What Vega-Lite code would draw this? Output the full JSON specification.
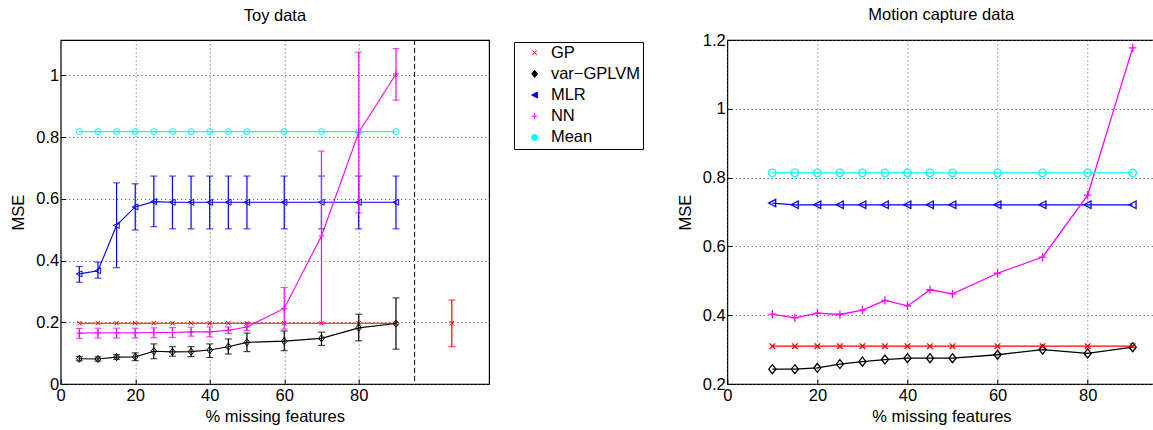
{
  "$schema": "https://vega.github.io/schema/vega-lite/v6.json",
  "autosize": {"type": "none"},
  "padding": {"left": 60.7, "top": 40, "right": 1092.3, "bottom": 390},
  "background": "white",
  "datasets": {
    "toy": [
      {"s": "GP", "x": 5, "y": 0.197}, {"s": "GP", "x": 10, "y": 0.197}, {"s": "GP", "x": 15, "y": 0.197}, {"s": "GP", "x": 20, "y": 0.197}, {"s": "GP", "x": 25, "y": 0.197}, {"s": "GP", "x": 30, "y": 0.197}, {"s": "GP", "x": 35, "y": 0.197}, {"s": "GP", "x": 40, "y": 0.197}, {"s": "GP", "x": 45, "y": 0.197}, {"s": "GP", "x": 50, "y": 0.197}, {"s": "GP", "x": 60, "y": 0.197}, {"s": "GP", "x": 70, "y": 0.197}, {"s": "GP", "x": 80, "y": 0.197}, {"s": "GP", "x": 90, "y": 0.197},
      {"s": "GP", "x": 105, "y": 0.197, "lo": 0.121, "hi": 0.272, "extra": true},
      {"s": "var−GPLVM", "x": 5, "y": 0.082, "lo": 0.075, "hi": 0.089},
      {"s": "var−GPLVM", "x": 10, "y": 0.081, "lo": 0.074, "hi": 0.088},
      {"s": "var−GPLVM", "x": 15, "y": 0.087, "lo": 0.080, "hi": 0.095},
      {"s": "var−GPLVM", "x": 20, "y": 0.088, "lo": 0.076, "hi": 0.101},
      {"s": "var−GPLVM", "x": 25, "y": 0.106, "lo": 0.082, "hi": 0.130},
      {"s": "var−GPLVM", "x": 30, "y": 0.104, "lo": 0.090, "hi": 0.121},
      {"s": "var−GPLVM", "x": 35, "y": 0.105, "lo": 0.089, "hi": 0.121},
      {"s": "var−GPLVM", "x": 40, "y": 0.110, "lo": 0.086, "hi": 0.130},
      {"s": "var−GPLVM", "x": 45, "y": 0.121, "lo": 0.097, "hi": 0.146},
      {"s": "var−GPLVM", "x": 50, "y": 0.135, "lo": 0.105, "hi": 0.165},
      {"s": "var−GPLVM", "x": 60, "y": 0.139, "lo": 0.108, "hi": 0.172},
      {"s": "var−GPLVM", "x": 70, "y": 0.148, "lo": 0.125, "hi": 0.168},
      {"s": "var−GPLVM", "x": 80, "y": 0.182, "lo": 0.140, "hi": 0.226},
      {"s": "var−GPLVM", "x": 90, "y": 0.196, "lo": 0.113, "hi": 0.279},
      {"s": "MLR", "x": 5, "y": 0.357, "lo": 0.330, "hi": 0.381},
      {"s": "MLR", "x": 10, "y": 0.367, "lo": 0.343, "hi": 0.395},
      {"s": "MLR", "x": 15, "y": 0.514, "lo": 0.377, "hi": 0.652},
      {"s": "MLR", "x": 20, "y": 0.574, "lo": 0.499, "hi": 0.649},
      {"s": "MLR", "x": 25, "y": 0.591, "lo": 0.510, "hi": 0.674},
      {"s": "MLR", "x": 30, "y": 0.589, "lo": 0.503, "hi": 0.674},
      {"s": "MLR", "x": 35, "y": 0.589, "lo": 0.503, "hi": 0.674},
      {"s": "MLR", "x": 40, "y": 0.589, "lo": 0.503, "hi": 0.674},
      {"s": "MLR", "x": 45, "y": 0.589, "lo": 0.503, "hi": 0.674},
      {"s": "MLR", "x": 50, "y": 0.589, "lo": 0.503, "hi": 0.674},
      {"s": "MLR", "x": 60, "y": 0.589, "lo": 0.503, "hi": 0.674},
      {"s": "MLR", "x": 70, "y": 0.589, "lo": 0.503, "hi": 0.674},
      {"s": "MLR", "x": 80, "y": 0.589, "lo": 0.503, "hi": 0.674},
      {"s": "MLR", "x": 90, "y": 0.589, "lo": 0.503, "hi": 0.674},
      {"s": "NN", "x": 5, "y": 0.165, "lo": 0.148, "hi": 0.180},
      {"s": "NN", "x": 10, "y": 0.166, "lo": 0.149, "hi": 0.181},
      {"s": "NN", "x": 15, "y": 0.166, "lo": 0.149, "hi": 0.181},
      {"s": "NN", "x": 20, "y": 0.166, "lo": 0.149, "hi": 0.181},
      {"s": "NN", "x": 25, "y": 0.167, "lo": 0.150, "hi": 0.182},
      {"s": "NN", "x": 30, "y": 0.167, "lo": 0.151, "hi": 0.183},
      {"s": "NN", "x": 35, "y": 0.169, "lo": 0.155, "hi": 0.184},
      {"s": "NN", "x": 40, "y": 0.169, "lo": 0.153, "hi": 0.185},
      {"s": "NN", "x": 45, "y": 0.174, "lo": 0.164, "hi": 0.185},
      {"s": "NN", "x": 50, "y": 0.185, "lo": 0.173, "hi": 0.197},
      {"s": "NN", "x": 60, "y": 0.245, "lo": 0.178, "hi": 0.313},
      {"s": "NN", "x": 70, "y": 0.480, "lo": 0.197, "hi": 0.755},
      {"s": "NN", "x": 80, "y": 0.815, "lo": 0.555, "hi": 1.075},
      {"s": "NN", "x": 90, "y": 1.005, "lo": 0.920, "hi": 1.087},
      {"s": "Mean", "x": 5, "y": 0.818}, {"s": "Mean", "x": 10, "y": 0.818}, {"s": "Mean", "x": 15, "y": 0.818}, {"s": "Mean", "x": 20, "y": 0.818}, {"s": "Mean", "x": 25, "y": 0.818}, {"s": "Mean", "x": 30, "y": 0.818}, {"s": "Mean", "x": 35, "y": 0.818}, {"s": "Mean", "x": 40, "y": 0.818}, {"s": "Mean", "x": 45, "y": 0.818}, {"s": "Mean", "x": 50, "y": 0.818}, {"s": "Mean", "x": 60, "y": 0.818}, {"s": "Mean", "x": 70, "y": 0.818}, {"s": "Mean", "x": 80, "y": 0.818}, {"s": "Mean", "x": 90, "y": 0.818}
    ],
    "mocap": [
      {"s": "GP", "x": 10, "y": 0.31}, {"s": "GP", "x": 15, "y": 0.31}, {"s": "GP", "x": 20, "y": 0.31}, {"s": "GP", "x": 25, "y": 0.31}, {"s": "GP", "x": 30, "y": 0.31}, {"s": "GP", "x": 35, "y": 0.31}, {"s": "GP", "x": 40, "y": 0.31}, {"s": "GP", "x": 45, "y": 0.31}, {"s": "GP", "x": 50, "y": 0.31}, {"s": "GP", "x": 60, "y": 0.31}, {"s": "GP", "x": 70, "y": 0.31}, {"s": "GP", "x": 80, "y": 0.31}, {"s": "GP", "x": 90, "y": 0.31},
      {"s": "var−GPLVM", "x": 10, "y": 0.243}, {"s": "var−GPLVM", "x": 15, "y": 0.243}, {"s": "var−GPLVM", "x": 20, "y": 0.247}, {"s": "var−GPLVM", "x": 25, "y": 0.258}, {"s": "var−GPLVM", "x": 30, "y": 0.265}, {"s": "var−GPLVM", "x": 35, "y": 0.271}, {"s": "var−GPLVM", "x": 40, "y": 0.275}, {"s": "var−GPLVM", "x": 45, "y": 0.275}, {"s": "var−GPLVM", "x": 50, "y": 0.275}, {"s": "var−GPLVM", "x": 60, "y": 0.285}, {"s": "var−GPLVM", "x": 70, "y": 0.300}, {"s": "var−GPLVM", "x": 80, "y": 0.289}, {"s": "var−GPLVM", "x": 90, "y": 0.307},
      {"s": "MLR", "x": 10, "y": 0.726}, {"s": "MLR", "x": 15, "y": 0.721}, {"s": "MLR", "x": 20, "y": 0.721}, {"s": "MLR", "x": 25, "y": 0.721}, {"s": "MLR", "x": 30, "y": 0.721}, {"s": "MLR", "x": 35, "y": 0.721}, {"s": "MLR", "x": 40, "y": 0.721}, {"s": "MLR", "x": 45, "y": 0.721}, {"s": "MLR", "x": 50, "y": 0.721}, {"s": "MLR", "x": 60, "y": 0.721}, {"s": "MLR", "x": 70, "y": 0.721}, {"s": "MLR", "x": 80, "y": 0.721}, {"s": "MLR", "x": 90, "y": 0.721},
      {"s": "NN", "x": 10, "y": 0.403}, {"s": "NN", "x": 15, "y": 0.392}, {"s": "NN", "x": 20, "y": 0.406}, {"s": "NN", "x": 25, "y": 0.402}, {"s": "NN", "x": 30, "y": 0.415}, {"s": "NN", "x": 35, "y": 0.443}, {"s": "NN", "x": 40, "y": 0.427}, {"s": "NN", "x": 45, "y": 0.474}, {"s": "NN", "x": 50, "y": 0.462}, {"s": "NN", "x": 60, "y": 0.522}, {"s": "NN", "x": 70, "y": 0.569}, {"s": "NN", "x": 80, "y": 0.749}, {"s": "NN", "x": 90, "y": 1.177},
      {"s": "Mean", "x": 10, "y": 0.814}, {"s": "Mean", "x": 15, "y": 0.814}, {"s": "Mean", "x": 20, "y": 0.814}, {"s": "Mean", "x": 25, "y": 0.814}, {"s": "Mean", "x": 30, "y": 0.814}, {"s": "Mean", "x": 35, "y": 0.814}, {"s": "Mean", "x": 40, "y": 0.814}, {"s": "Mean", "x": 45, "y": 0.814}, {"s": "Mean", "x": 50, "y": 0.814}, {"s": "Mean", "x": 60, "y": 0.814}, {"s": "Mean", "x": 70, "y": 0.814}, {"s": "Mean", "x": 80, "y": 0.814}, {"s": "Mean", "x": 90, "y": 0.814}
    ]
  },
  "bounds": "flush",
  "spacing": 237.6,
  "resolve": {"scale": {"color": "shared", "shape": "shared"}, "legend": {"color": "shared"}},
  "hconcat": [
    {
      "width": 428.4,
      "height": 344,
      "title": {"text": "Toy data", "offset": 15},
      "data": {"name": "toy"},
      "layer": [
        {
          "data": {"values": [{"x": 95}]},
          "mark": {"type": "rule", "color": "black", "strokeDash": [5, 3], "strokeWidth": 1},
          "encoding": {
            "x": {"field": "x", "type": "quantitative", "scale": {"domain": [0, 115], "nice": false, "zero": false}, "axis": {"values": [0, 20, 40, 60, 80]}, "title": "% missing features"}
          }
        },
        {
          "mark": {"type": "point", "filled": false, "size": 36, "strokeWidth": 1, "opacity": 1},
          "encoding": {
            "x": {"field": "x", "type": "quantitative", "scale": {"domain": [0, 115], "nice": false, "zero": false}, "title": "% missing features"},
            "y": {"field": "y", "type": "quantitative", "scale": {"domain": [0, 1.115], "nice": false, "zero": false}, "axis": {"values": [0, 0.2, 0.4, 0.6, 0.8, 1], "format": "~g"}, "title": "MSE"},
            "color": {"field": "s", "type": "nominal", "scale": {"domain": ["GP", "var−GPLVM", "MLR", "NN", "Mean"], "range": ["#ff0000", "#000000", "#0000ff", "#ff00ff", "#00ffff"]},
              "legend": {"orient": "none", "legendX": 453.3, "legendY": 2, "title": null}},
            "shape": {"field": "s", "type": "nominal", "legend": null, "scale": {"domain": ["GP", "var−GPLVM", "MLR", "NN", "Mean"], "range": ["M-0.75,-0.75L0.75,0.75M-0.75,0.75L0.75,-0.75", "M0,-1.2L0.95,0L0,1.2L-0.95,0Z", "M-1,0L0.9,-1L0.9,1Z", "M-1,0H1M0,-1.1V1.1", "circle"]}}
          }
        },
        {
          "transform": [{"filter": "!datum.extra"}],
          "mark": {"type": "line", "strokeWidth": 1.1},
          "encoding": {
            "x": {"field": "x", "type": "quantitative", "scale": {"domain": [0, 115], "nice": false, "zero": false}, "title": "% missing features"},
            "y": {"field": "y", "type": "quantitative", "scale": {"domain": [0, 1.115], "nice": false, "zero": false}, "title": "MSE"},
            "color": {"field": "s", "type": "nominal", "scale": {"domain": ["GP", "var−GPLVM", "MLR", "NN", "Mean"], "range": ["#ff0000", "#000000", "#0000ff", "#ff00ff", "#00ffff"]},
              "legend": {"orient": "none", "legendX": 453.3, "legendY": 2, "title": null}},
            "detail": {"field": "s"}
          }
        },
        {
          "transform": [{"filter": "isValid(datum.lo)"}],
          "mark": {"type": "errorbar", "ticks": {"size": 7}, "thickness": 1.2},
          "encoding": {
            "x": {"field": "x", "type": "quantitative", "scale": {"domain": [0, 115], "nice": false, "zero": false}, "title": "% missing features"},
            "y": {"field": "lo", "type": "quantitative", "scale": {"domain": [0, 1.115], "nice": false, "zero": false}, "title": "MSE"},
            "y2": {"field": "hi"},
            "color": {"field": "s", "type": "nominal", "scale": {"domain": ["GP", "var−GPLVM", "MLR", "NN", "Mean"], "range": ["#ff0000", "#000000", "#0000ff", "#ff00ff", "#00ffff"]},
              "legend": {"orient": "none", "legendX": 453.3, "legendY": 2, "title": null}}
          }
        }
      ]
    },
    {
      "width": 427.9,
      "height": 344,
      "title": {"text": "Motion capture data", "offset": 8.5},
      "data": {"name": "mocap"},
      "layer": [
        {
          "mark": {"type": "point", "filled": false, "size": 56, "strokeWidth": 1.3, "opacity": 1},
          "encoding": {
            "x": {"field": "x", "type": "quantitative", "scale": {"domain": [0, 95], "nice": false, "zero": false}, "axis": {"values": [0, 20, 40, 60, 80]}, "title": "% missing features"},
            "y": {"field": "y", "type": "quantitative", "scale": {"domain": [0.2, 1.2], "nice": false, "zero": false}, "axis": {"values": [0.2, 0.4, 0.6, 0.8, 1, 1.2], "format": "~g"}, "title": "MSE"},
            "color": {"field": "s", "type": "nominal", "scale": {"domain": ["GP", "var−GPLVM", "MLR", "NN", "Mean"], "range": ["#ff0000", "#000000", "#0000ff", "#ff00ff", "#00ffff"]},
              "legend": {"orient": "none", "legendX": 453.3, "legendY": 2, "title": null}},
            "shape": {"field": "s", "type": "nominal", "legend": null, "scale": {"domain": ["GP", "var−GPLVM", "MLR", "NN", "Mean"], "range": ["M-0.75,-0.75L0.75,0.75M-0.75,0.75L0.75,-0.75", "M0,-1.2L0.95,0L0,1.2L-0.95,0Z", "M-1,0L0.9,-1L0.9,1Z", "M-1,0H1M0,-1.1V1.1", "circle"]}}
          }
        },
        {
          "mark": {"type": "line", "strokeWidth": 1.3},
          "encoding": {
            "x": {"field": "x", "type": "quantitative", "scale": {"domain": [0, 95], "nice": false, "zero": false}, "title": "% missing features"},
            "y": {"field": "y", "type": "quantitative", "scale": {"domain": [0.2, 1.2], "nice": false, "zero": false}, "title": "MSE"},
            "color": {"field": "s", "type": "nominal", "scale": {"domain": ["GP", "var−GPLVM", "MLR", "NN", "Mean"], "range": ["#ff0000", "#000000", "#0000ff", "#ff00ff", "#00ffff"]},
              "legend": {"orient": "none", "legendX": 453.3, "legendY": 2, "title": null}}
          }
        }
      ]
    }
  ],
  "config": {
    "font": "Liberation Sans",
    "view": {"stroke": "black", "strokeWidth": 1.2},
    "axis": {
      "domain": false,
      "ticks": true,
      "tickSize": -5,
      "tickColor": "black",
      "tickWidth": 1,
      "grid": true,
      "gridColor": "#555555",
      "gridDash": [1, 3],
      "gridWidth": 1,
      "gridOpacity": 1,
      "labelFont": "Liberation Sans",
      "labelFontSize": 16.5,
      "labelColor": "black",
      "labelFlush": false,
      "labelOverlap": false,
      "titleFont": "Liberation Sans",
      "titleFontSize": 16.5,
      "titleFontWeight": "normal",
      "titleColor": "black"
    },
    "axisX": {"labelPadding": 8, "titleBaseline": "alphabetic", "titleX": 214.1, "titleY": 37},
    "axisY": {"labelPadding": 7, "titleBaseline": "alphabetic", "titleX": -37, "titleY": 172, "titleAngle": -90},
    "title": {"font": "Liberation Sans", "fontSize": 16.5, "fontWeight": "normal", "color": "black", "baseline": "alphabetic"},
    "legend": {
      "strokeColor": "black",
      "fillColor": "white",
      "padding": 2.4,
      "labelFont": "Liberation Sans",
      "labelFontSize": 16.5,
      "labelColor": "black",
      "symbolSize": 36,
      "symbolStrokeWidth": 1,
      "symbolOffset": 10,
      "labelOffset": 8,
      "rowPadding": 4.2,
      "symbolOpacity": 1,
      "symbolFillColor": "transparent"
    }
  }
}
